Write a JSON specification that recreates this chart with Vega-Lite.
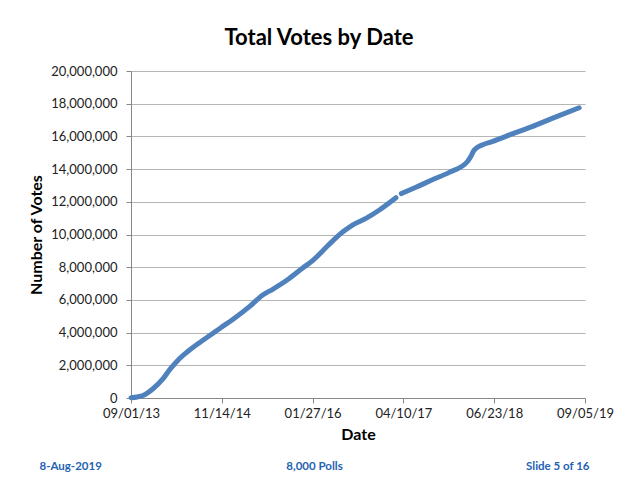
{
  "$schema": "https://vega.github.io/schema/vega-lite/v6.json",
  "width": 454,
  "height": 327,
  "autosize": {"type": "none"},
  "padding": {"left": 131, "top": 71, "right": 55, "bottom": 82},
  "background": "white",
  "title": {
    "text": "Total Votes by Date",
    "anchor": "middle",
    "frame": "group",
    "dx": -39,
    "offset": 15,
    "font": "Lato",
    "fontSize": 22,
    "fontWeight": "bold",
    "color": "#000000"
  },
  "config": {
    "view": {"stroke": null},
    "font": "Lato"
  },
  "layer": [
    {
      "data": {
        "values": [
          {"date": "2013-09-01", "votes": 20000},
          {"date": "2013-10-01", "votes": 60000},
          {"date": "2013-11-01", "votes": 170000},
          {"date": "2013-12-15", "votes": 550000},
          {"date": "2014-02-01", "votes": 1150000},
          {"date": "2014-03-08", "votes": 1750000},
          {"date": "2014-04-15", "votes": 2300000},
          {"date": "2014-05-29", "votes": 2800000},
          {"date": "2014-07-31", "votes": 3400000},
          {"date": "2014-09-20", "votes": 3850000},
          {"date": "2014-11-09", "votes": 4300000},
          {"date": "2015-01-06", "votes": 4800000},
          {"date": "2015-03-29", "votes": 5600000},
          {"date": "2015-05-31", "votes": 6300000},
          {"date": "2015-07-18", "votes": 6650000},
          {"date": "2015-09-24", "votes": 7200000},
          {"date": "2015-12-10", "votes": 7950000},
          {"date": "2016-01-27", "votes": 8400000},
          {"date": "2016-04-08", "votes": 9300000},
          {"date": "2016-06-20", "votes": 10150000},
          {"date": "2016-08-07", "votes": 10580000},
          {"date": "2016-10-13", "votes": 11000000},
          {"date": "2016-12-15", "votes": 11500000},
          {"date": "2017-03-05", "votes": 12250000},
          {"date": "2017-03-18", "votes": null},
          {"date": "2017-03-31", "votes": 12500000},
          {"date": "2017-06-12", "votes": 12900000},
          {"date": "2017-08-28", "votes": 13350000},
          {"date": "2017-11-18", "votes": 13800000},
          {"date": "2018-02-13", "votes": 14450000},
          {"date": "2018-03-01", "votes": 14750000},
          {"date": "2018-03-15", "votes": 15100000},
          {"date": "2018-04-05", "votes": 15350000},
          {"date": "2018-05-05", "votes": 15520000},
          {"date": "2018-06-13", "votes": 15680000},
          {"date": "2018-09-18", "votes": 16150000},
          {"date": "2018-12-23", "votes": 16600000},
          {"date": "2019-03-30", "votes": 17100000},
          {"date": "2019-08-08", "votes": 17750000}
        ]
      },
      "mark": {
        "type": "line",
        "color": "#4F81BD",
        "strokeWidth": 5,
        "strokeCap": "round",
        "strokeJoin": "round",
        "interpolate": "monotone",
        "invalid": "break-paths-show-domains"
      },
      "encoding": {
        "x": {
          "field": "date",
          "type": "temporal",
          "scale": {
            "type": "utc",
            "domain": [
              {"year": 2013, "month": 9, "date": 1, "utc": true},
              {"year": 2019, "month": 9, "date": 5, "utc": true}
            ],
            "nice": false
          },
          "axis": {
            "values": [
              {"year": 2013, "month": 9, "date": 1, "utc": true},
              {"year": 2014, "month": 11, "date": 14, "utc": true},
              {"year": 2016, "month": 1, "date": 27, "utc": true},
              {"year": 2017, "month": 4, "date": 10, "utc": true},
              {"year": 2018, "month": 6, "date": 23, "utc": true},
              {"year": 2019, "month": 9, "date": 5, "utc": true}
            ],
            "format": "%m/%d/%y",
            "title": "Date",
            "grid": false,
            "domainColor": "#888888",
            "tickColor": "#888888",
            "tickSize": 5,
            "labelFontSize": 13,
            "labelColor": "#222222",
            "labelPadding": 4,
            "labelFlush": false,
            "labelOverlap": false,
            "titleFontSize": 16,
            "titleFontWeight": "bold",
            "titleColor": "#000000",
            "titlePadding": 6
          }
        },
        "y": {
          "field": "votes",
          "type": "quantitative",
          "scale": {"domain": [0, 20000000], "nice": false},
          "axis": {
            "values": [0, 2000000, 4000000, 6000000, 8000000, 10000000, 12000000, 14000000, 16000000, 18000000, 20000000],
            "format": ",d",
            "title": "Number of Votes",
            "gridColor": "#b5b5b5",
            "domainColor": "#888888",
            "tickColor": "#888888",
            "tickSize": 5,
            "labelFontSize": 13,
            "labelColor": "#222222",
            "labelPadding": 9,
            "titleFontSize": 16,
            "titleFontWeight": "bold",
            "titleColor": "#000000",
            "titlePadding": 6
          }
        }
      }
    },
    {
      "data": {
        "values": [
          {"footer": "8-Aug-2019"},
          {"footer": "8,000 Polls"},
          {"footer": "Slide 5 of 16"}
        ]
      },
      "mark": {"type": "point", "opacity": 0},
      "encoding": {
        "x": {
          "field": "footer",
          "type": "nominal",
          "sort": null,
          "scale": {"type": "point", "padding": 0, "range": [-92, 458]},
          "axis": {
            "orient": "bottom",
            "offset": 62,
            "title": null,
            "domain": false,
            "ticks": false,
            "grid": false,
            "labelAngle": 0,
            "labelPadding": 0,
            "labelFontSize": 11.5,
            "labelFontWeight": "bold",
            "labelColor": "#1f63b5",
            "labelOverlap": false,
            "labelFlush": false,
            "labelAlign": {
              "condition": [
                {"test": "datum.value === '8-Aug-2019'", "value": "left"},
                {"test": "datum.value === 'Slide 5 of 16'", "value": "right"}
              ],
              "value": "center"
            }
          }
        }
      }
    }
  ],
  "resolve": {"scale": {"x": "independent"}, "axis": {"x": "independent"}}
}
